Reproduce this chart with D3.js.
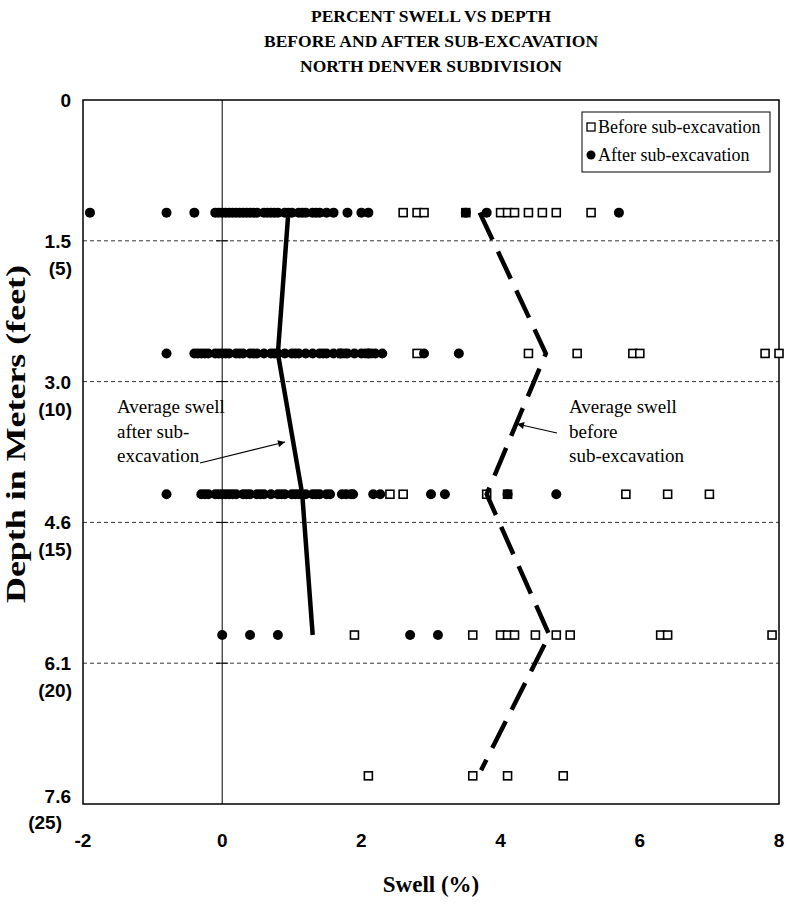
<!DOCTYPE html>
<html>
<head>
<meta charset="utf-8">
<script src="https://cdn.jsdelivr.net/npm/d3@7"></script>
<style>
  body { margin: 0; background: #fff; }
  svg text { fill: #000; }
</style>
</head>
<body>
<div id="chart"></div>
<script>
// depth of each test row, in feet
const depthsFt = [4, 9, 14, 19, 24];

// swell (%) before sub-excavation, one array per depth row
const beforeSwell = [
  [2.6, 2.8, 2.9, 3.5, 4.0, 4.1, 4.2, 4.4, 4.6, 4.8, 5.3],
  [1.72, 2.1, 2.8, 4.4, 5.1, 5.9, 6.0, 7.8, 8.0],
  [2.41, 2.6, 3.8, 4.1, 5.8, 6.4, 7.0],
  [1.9, 3.6, 4.0, 4.1, 4.2, 4.5, 4.8, 5.0, 6.3, 6.4, 7.9],
  [2.1, 3.6, 4.1, 4.9]
];

// swell (%) after sub-excavation
const afterSwell = [
  [-1.9, -0.8, -0.4, -0.1, -0.05, 0.0, 0.05, 0.1, 0.15, 0.2, 0.25, 0.3, 0.35, 0.4, 0.45, 0.5,
   0.6, 0.65, 0.7, 0.75, 0.8, 0.9, 0.95, 1.0, 1.1, 1.15, 1.2, 1.3, 1.35, 1.4, 1.5, 1.6,
   1.8, 2.0, 2.1, 3.5, 3.8, 5.7],
  [-0.8, -0.4, -0.35, -0.3, -0.25, -0.2, -0.1, -0.05, 0, 0.05, 0.1, 0.2, 0.25, 0.3, 0.4, 0.45,
   0.5, 0.6, 0.7, 0.75, 0.8, 0.9, 1.0, 1.05, 1.1, 1.2, 1.3, 1.4, 1.45, 1.5, 1.6, 1.7, 1.8,
   1.9, 2.0, 2.1, 2.2, 2.3, 2.9, 3.4],
  [-0.8, -0.3, -0.25, -0.2, -0.1, -0.05, 0, 0.05, 0.1, 0.15, 0.2, 0.3, 0.35, 0.4, 0.5, 0.55,
   0.6, 0.7, 0.8, 0.85, 0.9, 1.0, 1.05, 1.1, 1.2, 1.3, 1.35, 1.4, 1.5, 1.55, 1.72, 1.78,
   1.85, 1.88, 2.17, 2.27, 3.0, 3.2, 4.1, 4.8],
  [0, 0.4, 0.8, 2.7, 3.1],
  []
];

// average swell lines
const avgAfterDepth = [4, 9, 14, 19];
const avgAfter = [0.95, 0.8, 1.15, 1.3];
const avgBeforeDepth = [4, 9, 14, 19, 23.8];
const avgBefore = [3.7, 4.65, 3.8, 4.7, 3.72];

// axis ticks
const xTicks = [-2, 0, 2, 4, 6, 8];
const depthTicksFt = [0, 5, 10, 15, 20, 25];
const depthTickMeters = ["0", "1.5", "3.0", "4.6", "6.1", "7.6"];
const depthTickFeet = ["", "(5)", "(10)", "(15)", "(20)", "(25)"];

const titleLines = ["PERCENT SWELL VS DEPTH", "BEFORE AND AFTER SUB-EXCAVATION", "NORTH DENVER SUBDIVISION"];

const W = 789, H = 905;
const plot = { left: 83, right: 779, top: 100, bottom: 804 };
const serif = "'Liberation Serif', 'Times New Roman', serif";
const sans = "'Liberation Sans', Arial, sans-serif";

const svg = d3.select("#chart").append("svg")
  .attr("width", W).attr("height", H);

const x = d3.scaleLinear().domain([-2, 8]).range([plot.left, plot.right]);
const y = d3.scaleLinear().domain([0, 25]).range([plot.top, plot.bottom]);

// title
svg.append("g").selectAll("text").data(titleLines).enter().append("text")
  .attr("x", (plot.left + plot.right) / 2)
  .attr("y", (d, i) => 22 + i * 25)
  .attr("text-anchor", "middle")
  .style("font-family", serif).style("font-weight", "bold").style("font-size", "17.5px")
  .text(d => d);

// dashed gridlines
svg.append("g").selectAll("line").data(depthTicksFt.slice(1, -1)).enter().append("line")
  .attr("x1", plot.left).attr("x2", plot.right)
  .attr("y1", d => y(d)).attr("y2", d => y(d))
  .attr("stroke", "#000").attr("stroke-width", 0.8).attr("stroke-dasharray", "4,3");

// zero line with crossing ticks
svg.append("line")
  .attr("x1", x(0)).attr("x2", x(0)).attr("y1", plot.top).attr("y2", plot.bottom)
  .attr("stroke", "#000").attr("stroke-width", 1);
svg.append("g").selectAll("line").data(depthTicksFt.slice(1, -1)).enter().append("line")
  .attr("x1", x(0) - 6).attr("x2", x(0) + 6)
  .attr("y1", d => y(d)).attr("y2", d => y(d))
  .attr("stroke", "#000").attr("stroke-width", 1);

// plot frame
svg.append("rect")
  .attr("x", plot.left).attr("y", plot.top)
  .attr("width", plot.right - plot.left).attr("height", plot.bottom - plot.top)
  .attr("fill", "none").attr("stroke", "#000").attr("stroke-width", 1.5);

// x tick labels
svg.append("g").selectAll("text").data(xTicks).enter().append("text")
  .attr("x", d => x(d)).attr("y", 847)
  .attr("text-anchor", "middle")
  .style("font-family", sans).style("font-weight", "bold").style("font-size", "19px")
  .text(d => d);

// y tick labels (meters and feet)
const yl = svg.append("g");
yl.selectAll("text.m").data(depthTicksFt).enter().append("text")
  .attr("class", "m")
  .attr("x", 71).attr("y", (d, i) => i == 5 ? y(d) - 1 : y(d) + 7)
  .attr("text-anchor", "end")
  .style("font-family", sans).style("font-weight", "bold").style("font-size", "19px")
  .text((d, i) => depthTickMeters[i]);
yl.selectAll("text.f").data(depthTicksFt).enter().append("text")
  .attr("class", "f")
  .attr("x", (d, i) => i == 5 ? 62 : 72).attr("y", (d, i) => i == 5 ? y(d) + 25 : y(d) + 34)
  .attr("text-anchor", "end")
  .style("font-family", sans).style("font-weight", "bold").style("font-size", "19px")
  .text((d, i) => depthTickFeet[i]);

// axis titles
svg.append("text")
  .attr("x", (plot.left + plot.right) / 2).attr("y", 892)
  .attr("text-anchor", "middle")
  .style("font-family", serif).style("font-weight", "bold").style("font-size", "23px")
  .text("Swell (%)");
svg.append("text")
  .attr("transform", "translate(25," + 434 + ")rotate(-90)")
  .attr("text-anchor", "middle")
  .attr("textLength", 338).attr("lengthAdjust", "spacingAndGlyphs")
  .style("font-family", serif).style("font-weight", "bold").style("font-size", "27px")
  .text("Depth in Meters (feet)");

// points
const beforePts = [], afterPts = [];
depthsFt.forEach((dep, i) => {
  beforeSwell[i].forEach(v => beforePts.push({ dep: dep, v: v }));
  afterSwell[i].forEach(v => afterPts.push({ dep: dep, v: v }));
});

svg.append("g").selectAll("rect").data(beforePts).enter().append("rect")
  .attr("x", d => x(d.v) - 4).attr("y", d => y(d.dep) - 4)
  .attr("width", 8).attr("height", 8)
  .attr("fill", "#fff").attr("stroke", "#000").attr("stroke-width", 1.6);

svg.append("g").selectAll("circle").data(afterPts).enter().append("circle")
  .attr("cx", d => x(d.v)).attr("cy", d => y(d.dep)).attr("r", 5)
  .attr("fill", "#000");

// average lines
const line = d3.line().x(d => x(d[1])).y(d => y(d[0]));
svg.append("path")
  .datum(avgAfterDepth.map((d, i) => [d, avgAfter[i]]))
  .attr("d", line)
  .attr("fill", "none").attr("stroke", "#000").attr("stroke-width", 4.5);
svg.append("path")
  .datum(avgBeforeDepth.map((d, i) => [d, avgBefore[i]]))
  .attr("d", line)
  .attr("fill", "none").attr("stroke", "#000").attr("stroke-width", 4.5)
  .attr("stroke-dasharray", "30,13");

// legend
const lg = svg.append("g").attr("transform", "translate(582,112)");
lg.append("rect").attr("width", 188).attr("height", 60)
  .attr("fill", "#fff").attr("stroke", "#000").attr("stroke-width", 1);
lg.append("rect").attr("x", 5).attr("y", 11).attr("width", 8).attr("height", 8)
  .attr("fill", "#fff").attr("stroke", "#000").attr("stroke-width", 1.3);
lg.append("circle").attr("cx", 9).attr("cy", 43).attr("r", 4.5).attr("fill", "#000");
lg.selectAll("text").data(["Before sub-excavation", "After sub-excavation"]).enter().append("text")
  .attr("x", 16).attr("y", (d, i) => 21 + i * 28)
  .style("font-family", serif).style("font-size", "18px")
  .text(d => d);

// annotations
svg.append("defs").append("marker")
  .attr("id", "arrow").attr("viewBox", "0 0 10 10").attr("refX", 10).attr("refY", 5)
  .attr("markerWidth", 9).attr("markerHeight", 7).attr("markerUnits", "userSpaceOnUse")
  .attr("orient", "auto")
  .append("path").attr("d", "M0,0L10,5L0,10z").attr("fill", "#000");

const noteLeft = ["Average swell", "after sub-", "excavation"];
const noteRight = ["Average swell", "before", "sub-excavation"];
svg.append("g").selectAll("text").data(noteLeft).enter().append("text")
  .attr("x", 117).attr("y", (d, i) => 413 + i * 24.5)
  .style("font-family", serif).style("font-size", "19px")
  .text(d => d);
svg.append("g").selectAll("text").data(noteRight).enter().append("text")
  .attr("x", 569).attr("y", (d, i) => 413 + i * 24.5)
  .style("font-family", serif).style("font-size", "19px")
  .text(d => d);

svg.append("line")
  .attr("x1", 200).attr("y1", 463).attr("x2", 285).attr("y2", 442)
  .attr("stroke", "#000").attr("stroke-width", 1.2).attr("marker-end", "url(#arrow)");
svg.append("line")
  .attr("x1", 557).attr("y1", 433).attr("x2", 517).attr("y2", 424)
  .attr("stroke", "#000").attr("stroke-width", 1.2).attr("marker-end", "url(#arrow)");
</script>
</body>
</html>
